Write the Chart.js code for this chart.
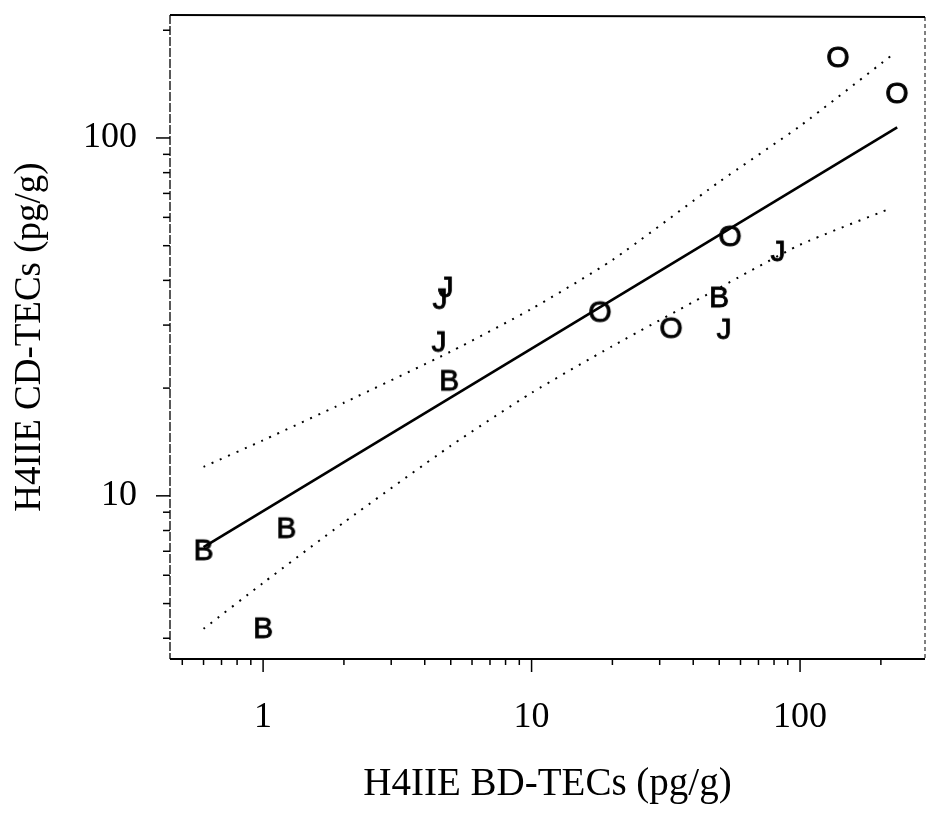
<!DOCTYPE html>
<html>
<head>
<meta charset="utf-8">
<script src="https://cdn.jsdelivr.net/npm/chart.js@4"></script>
<style>
  html, body { margin: 0; padding: 0; background: #fff; }
  #wrap { width: 928px; height: 813px; }
</style>
</head>
<body>
<div id="wrap"><canvas id="c" width="928" height="813"></canvas></div>
<script>
// ---- data ----
const bX = [0.60, 1.22, 1.00, 4.93, 49.9];
const bY = [7.02, 8.09, 4.25, 20.9, 35.7];
const jX = [4.56, 4.80, 4.52, 52.1, 82.8];
const jY = [35.3, 38.1, 26.8, 29.1, 48.0];
const oX = [18.0, 33.1, 54.9, 138.5, 229.7];
const oY = [32.5, 29.3, 52.9, 167.3, 132.7];

const fitX = [0.60, 230];
const fitY = [7.19, 107];

const bandX = [0.60, 1, 2, 5, 10, 20, 50, 100, 220];
const upperY = [12.05, 14.3, 18.2, 25.3, 33.3, 45.6, 75.4, 108, 170.5];
const lowerY = [4.25, 5.71, 8.43, 13.8, 19.4, 26.2, 38.1, 50.3, 63.8];

const xTickValues = [0.5,0.6,0.7,0.8,0.9,1,2,3,4,5,6,7,8,9,10,20,30,40,50,60,70,80,90,100,200];
const yTickValues = [4,5,6,7,8,9,10,20,30,40,50,60,70,80,90,100,200];
const xLabelValues = [1, 10, 100];
const yLabelValues = [10, 100];

const xTitle = 'H4IIE BD-TECs (pg/g)';
const yTitle = 'H4IIE CD-TECs (pg/g)';

// ---- helpers ----
function pts(xs, ys) { return xs.map((x, i) => ({ x: x, y: ys[i] })); }
function letterStyle(ch) {
  const c = document.createElement('canvas');
  c.width = 34; c.height = 34;
  const g = c.getContext('2d');
  g.fillStyle = '#000';
  g.strokeStyle = '#000';
  g.lineWidth = 0.9;
  g.font = '30px "Liberation Sans", Arial, sans-serif';
  g.textAlign = 'center';
  g.textBaseline = 'middle';
  g.fillText(ch, 17, 18);
  g.strokeText(ch, 17, 18);
  return c;
}
const isDecade = v => Math.abs(Math.log10(v) - Math.round(Math.log10(v))) < 1e-9;
const noPad = s => { s.paddingTop = 0; s.paddingBottom = 0; s.paddingLeft = 0; s.paddingRight = 0; };

const frame = {
  id: 'frame',
  afterDatasetsDraw(chart) {
    const { ctx, chartArea: a, scales: { x, y } } = chart;
    ctx.save();
    ctx.strokeStyle = '#000';
    // top border
    ctx.lineWidth = 2;
    ctx.beginPath(); ctx.moveTo(a.left, a.top); ctx.lineTo(a.right, a.top + 2); ctx.stroke();
    // right border (faint dashed)
    ctx.lineWidth = 1;
    ctx.setLineDash([4, 3]);
    ctx.beginPath(); ctx.moveTo(a.right, a.top + 2); ctx.lineTo(a.right, a.bottom); ctx.stroke();
    ctx.setLineDash([]);
    // left axis dashed-ish (scanned look)
    ctx.lineWidth = 1.3;
    ctx.setLineDash([9, 2]);
    ctx.beginPath(); ctx.moveTo(a.left, a.top); ctx.lineTo(a.left, a.bottom); ctx.stroke();
    ctx.setLineDash([]);
    // bottom axis
    ctx.lineWidth = 2;
    ctx.beginPath(); ctx.moveTo(a.left, a.bottom); ctx.lineTo(a.right, a.bottom); ctx.stroke();
    // tick marks
    ctx.lineWidth = 1.5;
    xTickValues.forEach(v => {
      const px = x.getPixelForValue(v);
      const len = isDecade(v) ? 13 : 6;
      ctx.beginPath(); ctx.moveTo(px, a.bottom); ctx.lineTo(px, a.bottom + len); ctx.stroke();
    });
    yTickValues.forEach(v => {
      const py = y.getPixelForValue(v);
      const len = isDecade(v) ? 14 : 7;
      ctx.beginPath(); ctx.moveTo(a.left, py); ctx.lineTo(a.left - len, py); ctx.stroke();
    });
    ctx.restore();
  }
};

const bandStyle = {
  borderColor: '#000', borderWidth: 2, borderDash: [2, 7], borderCapStyle: 'butt',
  pointRadius: 0, fill: false, tension: 0.2
};

new Chart(document.getElementById('c'), {
  type: 'scatter',
  data: {
    datasets: [
      { type: 'line', label: 'fit', data: pts(fitX, fitY), borderColor: '#000', borderWidth: 2.6, pointRadius: 0, fill: false },
      Object.assign({ type: 'line', label: 'upper', data: pts(bandX, upperY) }, bandStyle),
      Object.assign({ type: 'line', label: 'lower', data: pts(bandX, lowerY) }, bandStyle),
      { label: 'B', data: pts(bX, bY), pointStyle: letterStyle('B'), pointRadius: 12 },
      { label: 'J', data: pts(jX, jY), pointStyle: letterStyle('J'), pointRadius: 12 },
      { label: 'O', data: pts(oX, oY), pointStyle: letterStyle('O'), pointRadius: 12 }
    ]
  },
  options: {
    responsive: false,
    animation: false,
    events: [],
    layout: { autoPadding: false, padding: { top: 15, right: 3, left: 0, bottom: 0 } },
    plugins: { legend: { display: false }, tooltip: { enabled: false } },
    scales: {
      x: {
        type: 'logarithmic', min: 0.45, max: 292,
        grid: { display: false, drawTicks: false },
        border: { display: false },
        afterBuildTicks: s => { s.ticks = xLabelValues.map(v => ({ value: v, major: true })); },
        afterFit: s => { s.height = 154; noPad(s); },
        ticks: {
          autoSkip: false, maxRotation: 0, padding: 37, color: '#000',
          font: { family: '"Liberation Serif", "Times New Roman", serif', size: 36 },
          callback: v => String(v)
        },
        title: {
          display: true, text: xTitle, color: '#000',
          font: { family: '"Liberation Serif", "Times New Roman", serif', size: 39 },
          padding: { top: 0, bottom: 5 }
        }
      },
      y: {
        type: 'logarithmic', min: 3.5, max: 220.6,
        grid: { display: false, drawTicks: false },
        border: { display: false },
        afterBuildTicks: s => { s.ticks = yLabelValues.map(v => ({ value: v, major: true })); },
        afterFit: s => { s.width = 170; noPad(s); },
        ticks: {
          autoSkip: false, padding: 33, color: '#000',
          font: { family: '"Liberation Serif", "Times New Roman", serif', size: 36 },
          callback: v => String(v)
        },
        title: {
          display: true, text: yTitle, color: '#000',
          font: { family: '"Liberation Serif", "Times New Roman", serif', size: 37 },
          padding: { top: 8, bottom: 0 }
        }
      }
    }
  },
  plugins: [frame]
});
</script>
</body>
</html>
